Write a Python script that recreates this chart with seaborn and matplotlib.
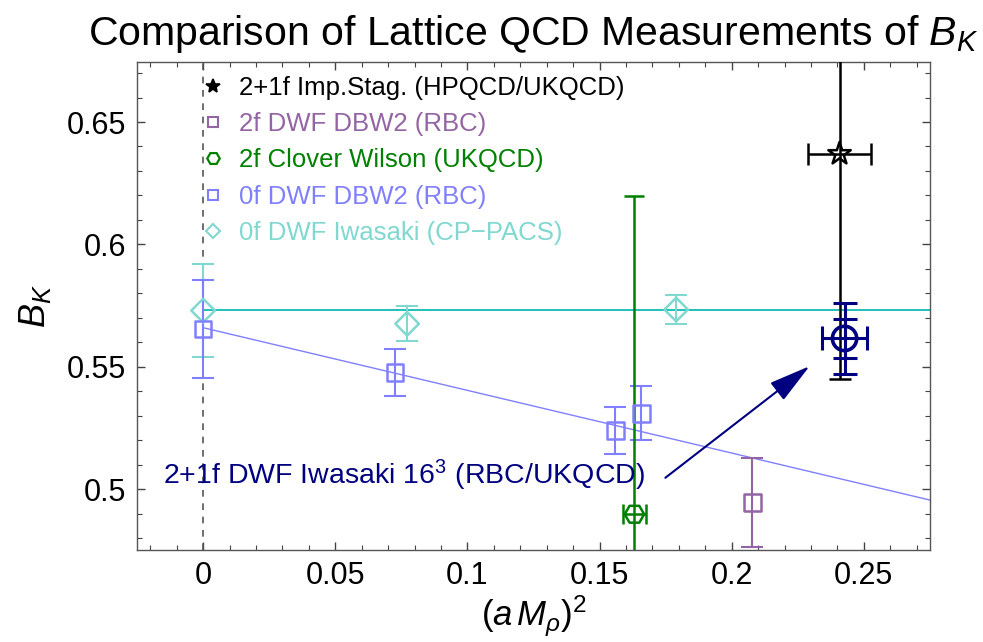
import numpy as np
import pandas as pd
import matplotlib
matplotlib.use("Agg")
import matplotlib.pyplot as plt
from matplotlib.lines import Line2D
from matplotlib.ticker import MultipleLocator, FuncFormatter
import seaborn as sns

# ---- data: (a M_rho)^2 and B_K with errors ----
# 2+1f improved staggered (HPQCD/UKQCD)
stag_x = [0.2408]
stag_y = [0.637]
stag_xerr = [0.012]
stag_yerr = [0.092]

# 2f DWF DBW2 (RBC)
dbw2_2f_x = [0.2078]
dbw2_2f_y = [0.4946]
dbw2_2f_yerr = [0.018]

# 2f Clover Wilson (UKQCD)
clover_x = [0.1632]
clover_y = [0.4898]
clover_xerr = [0.0043]
clover_yerr = [0.130]

# 0f DWF DBW2 (RBC)
dbw2_0f_x = [0.0, 0.0726, 0.156, 0.1658]
dbw2_0f_y = [0.5654, 0.5476, 0.524, 0.531]
dbw2_0f_yerr = [0.020, 0.0097, 0.0097, 0.011]
dbw2_fit_intercept = 0.566
dbw2_fit_slope = -0.256

# 0f DWF Iwasaki (CP-PACS)
iwa_0f_x = [0.0, 0.0772, 0.179]
iwa_0f_y = [0.573, 0.5676, 0.5734]
iwa_0f_yerr = [0.019, 0.0072, 0.006]
iwa_fit_const = 0.5732

# 2+1f DWF Iwasaki 16^3 (RBC/UKQCD)
rbc_x = [0.2427]
rbc_y = [0.5616]
rbc_xerr = [0.0086]
rbc_yerr_stat = [0.0078]
rbc_yerr_tot = [0.0145]

labels = [
    "2+1f Imp.Stag. (HPQCD/UKQCD)",
    "2f DWF DBW2 (RBC)",
    "2f Clover Wilson (UKQCD)",
    "0f DWF DBW2 (RBC)",
    "0f DWF Iwasaki (CP\u2212PACS)",
]
annot_text = "2+1f DWF Iwasaki 16$^3$ (RBC/UKQCD)"

XMIN, XMAX = -0.025, 0.275
YMIN, YMAX = 0.4752, 0.6745

# ---- style ----
sns.set_theme(style="ticks")
plt.rcParams["font.family"] = ["Liberation Sans", "DejaVu Sans"]
plt.rcParams["mathtext.fontset"] = "custom"
plt.rcParams["mathtext.rm"] = "Liberation Sans"
plt.rcParams["mathtext.it"] = "Liberation Sans:italic"
plt.rcParams["mathtext.bf"] = "Liberation Sans:bold"
plt.rcParams["text.color"] = "black"
plt.rcParams["axes.labelcolor"] = "black"
plt.rcParams["xtick.labelcolor"] = "black"
plt.rcParams["ytick.labelcolor"] = "black"

c_stag = "black"
c_2f = "#9464a4"
c_clover = "#008000"
c_0f = "#8080ff"
c_iwa = "#80d8d0"
c_iwa_line = "#20c0b8"
c_rbc = "#000080"

fig = plt.figure(figsize=(9.83, 6.42), dpi=100)
ax = fig.add_axes([0.1394, 0.1433, 0.8066, 0.7601])

# zero line
ax.axvline(0, color="#555555", lw=1.2, ls=(0, (4, 4)), zorder=1)

# fit lines
fit_x = np.array([0.0, XMAX])
sns.lineplot(x=fit_x, y=dbw2_fit_intercept + dbw2_fit_slope * fit_x,
             color=c_0f, lw=1.0, ax=ax, zorder=2)
sns.lineplot(x=fit_x, y=np.full(2, iwa_fit_const),
             color=c_iwa_line, lw=1.4, ax=ax, zorder=2)

# error bars
ax.errorbar(iwa_0f_x, iwa_0f_y, yerr=iwa_0f_yerr, ecolor=c_iwa, elinewidth=1.5,
            capsize=8, capthick=1.5, fmt="none", zorder=3)
ax.errorbar(dbw2_0f_x, dbw2_0f_y, yerr=dbw2_0f_yerr, ecolor=c_0f, elinewidth=1.5,
            capsize=8, capthick=1.5, fmt="none", zorder=3)
ax.errorbar(dbw2_2f_x, dbw2_2f_y, yerr=dbw2_2f_yerr, ecolor=c_2f, elinewidth=1.5,
            capsize=8, capthick=1.5, fmt="none", zorder=3)
ax.errorbar(clover_x, clover_y, xerr=clover_xerr, yerr=clover_yerr, ecolor=c_clover,
            elinewidth=1.8, capsize=7.5, capthick=1.8, fmt="none", zorder=3)
ax.errorbar(stag_x, stag_y, xerr=stag_xerr, yerr=stag_yerr, ecolor=c_stag,
            elinewidth=1.8, capsize=8, capthick=1.8, fmt="none", zorder=3)
ax.errorbar(rbc_x, rbc_y, yerr=rbc_yerr_tot, ecolor=c_rbc,
            elinewidth=2.2, capsize=8.3, capthick=2.2, fmt="none", zorder=4)
ax.errorbar(rbc_x, rbc_y, xerr=rbc_xerr, yerr=rbc_yerr_stat, ecolor=c_rbc,
            elinewidth=2.2, capsize=8.3, capthick=2.2, fmt="none", zorder=4)

# markers
def hollow(x, y, marker, size, color, lw, z=5):
    sns.scatterplot(x=x, y=y, marker=marker, s=size ** 2, facecolor="none",
                    edgecolor=color, linewidth=lw, ax=ax, zorder=z, legend=False)

hollow(iwa_0f_x, iwa_0f_y, "D", 12, c_iwa, 1.8)
hollow(dbw2_0f_x, dbw2_0f_y, "s", 12, c_0f, 1.8)
hollow(dbw2_2f_x, dbw2_2f_y, "s", 12, c_2f, 1.8)
hollow(clover_x, clover_y, "H", 14, c_clover, 1.8)
hollow(stag_x, stag_y, "*", 17, c_stag, 1.8)
hollow(rbc_x, rbc_y, "o", 17.5, c_rbc, 2.6, z=6)

# annotation with arrow
ax.annotate("", xy=(0.2295, 0.5503), xytext=(0.1749, 0.5047),
            arrowprops=dict(arrowstyle="-|>,head_length=1.3,head_width=0.34",
                            mutation_scale=20, color=c_rbc, lw=1.5,
                            shrinkA=0, shrinkB=0), zorder=7)
ax.text(-0.0152, 0.5057, annot_text, color=c_rbc, fontsize=20.5,
        ha="left", va="center", zorder=7)

# legend
handles = [
    Line2D([], [], ls="none", marker="*", ms=10, mfc=c_stag, mec=c_stag, mew=1.2),
    Line2D([], [], ls="none", marker="s", ms=6.5, mfc="none", mec=c_2f, mew=1.5),
    Line2D([], [], ls="none", marker="H", ms=9, mfc="none", mec=c_clover, mew=1.6),
    Line2D([], [], ls="none", marker="s", ms=6.5, mfc="none", mec=c_0f, mew=1.5),
    Line2D([], [], ls="none", marker="D", ms=7, mfc="none", mec=c_iwa, mew=1.5),
]
leg = ax.legend(handles, labels, loc="upper left", bbox_to_anchor=(0.062, 1.006),
                frameon=False, fontsize=18.5, handlelength=0.8, handletextpad=0.62,
                labelspacing=0.48, borderaxespad=0.25, labelcolor="markeredgecolor")

# axes
ax.set_xlim(XMIN, XMAX)
ax.set_ylim(YMIN, YMAX)
ax.xaxis.set_major_locator(MultipleLocator(0.05))
ax.xaxis.set_minor_locator(MultipleLocator(0.01))
ax.yaxis.set_major_locator(MultipleLocator(0.05))
ax.yaxis.set_minor_locator(MultipleLocator(0.01))
fmt = FuncFormatter(lambda v, p: ("%g" % round(v, 4)))
ax.xaxis.set_major_formatter(fmt)
ax.yaxis.set_major_formatter(fmt)
ax.tick_params(which="both", direction="in", top=True, right=True,
               color="#444444", labelsize=22, pad=8)
ax.tick_params(which="major", length=6, width=1.0)
ax.tick_params(which="minor", length=3.5, width=0.8)
for s in ax.spines.values():
    s.set_color("#555555")
    s.set_linewidth(1.0)

ax.set_xlabel(r"$(a\,M_\rho)^2$", fontsize=25, labelpad=2)
ax.set_ylabel(r"$B_K$", fontsize=26, labelpad=10)
ax.set_title(r"Comparison of Lattice QCD Measurements of $B_K$", fontsize=29.5, pad=12)

fig.savefig("out.png", dpi=100)
